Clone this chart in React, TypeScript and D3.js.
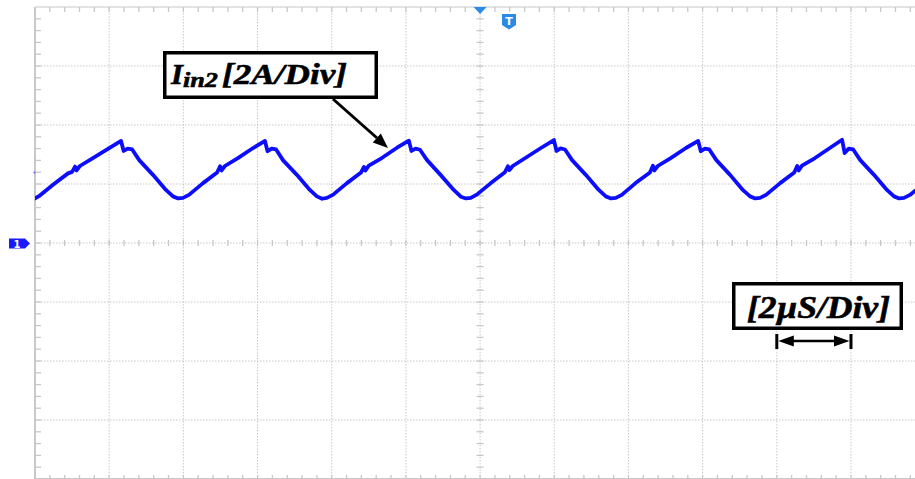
import React from 'react';
import * as d3 from 'd3';

// scope screen: 2 us/div horizontally, 2 A/div vertically, ch1 ground at centre line
const timeSpanUs = [0, 24];
const currentSpanA = [-8, 8];
const timePerDivUs = 2;
const ampsPerDiv = 2;
const subDivs = 5;
const scaleBarUs = [20, 22];

// Iin2 trace (us, A)
const traceTimeUs = [
  0.0, 0.13, 0.51, 0.89, 1.0, 1.08, 1.12, 1.21, 1.56, 2.0,
  2.32, 2.39, 2.5, 2.62, 2.81, 3.18, 3.53, 3.72, 3.86, 3.99, 4.15, 4.53, 4.91, 4.99, 5.03, 5.12, 5.47, 5.88,
  6.2, 6.27, 6.38, 6.5, 6.69, 7.06, 7.41, 7.6, 7.74, 7.87, 8.03, 8.41, 8.79, 8.87, 8.91, 9.0, 9.35, 9.76,
  10.08, 10.15, 10.26, 10.38, 10.57, 10.94, 11.29, 11.48, 11.62, 11.75, 11.91, 12.29, 12.67, 12.75, 12.79, 12.88, 13.23, 13.64,
  13.99, 14.06, 14.17, 14.29, 14.48, 14.85, 15.2, 15.39, 15.53, 15.66, 15.82, 16.2, 16.58, 16.66, 16.7, 16.79, 17.14, 17.55,
  17.88, 17.95, 18.06, 18.18, 18.37, 18.74, 19.09, 19.28, 19.42, 19.55, 19.71, 20.09, 20.47, 20.55, 20.59, 20.68, 21.03, 21.44,
  21.76, 21.83, 21.94, 22.06, 22.25, 22.62, 22.97, 23.16, 23.3, 23.43, 23.59, 23.73,
];

const traceCurrentA = [
  1.51, 1.61, 2.0, 2.36, 2.41, 2.59, 2.46, 2.61, 2.88, 3.22,
  3.46, 3.12, 3.2, 3.17, 2.81, 2.31, 1.8, 1.58, 1.51, 1.53, 1.63, 2.03, 2.39, 2.6, 2.46, 2.61, 2.88, 3.22,
  3.46, 3.11, 3.2, 3.17, 2.8, 2.31, 1.8, 1.58, 1.5, 1.53, 1.63, 2.03, 2.39, 2.58, 2.46, 2.62, 2.88, 3.23,
  3.47, 3.12, 3.2, 3.16, 2.81, 2.3, 1.8, 1.57, 1.51, 1.53, 1.64, 2.03, 2.4, 2.6, 2.47, 2.61, 2.89, 3.22,
  3.49, 3.12, 3.21, 3.17, 2.81, 2.31, 1.8, 1.58, 1.51, 1.53, 1.63, 2.04, 2.39, 2.62, 2.46, 2.61, 2.88, 3.22,
  3.46, 3.11, 3.2, 3.17, 2.81, 2.31, 1.79, 1.58, 1.51, 1.53, 1.63, 2.03, 2.39, 2.61, 2.46, 2.62, 2.88, 3.23,
  3.5, 3.05, 3.2, 3.17, 2.81, 2.31, 1.8, 1.58, 1.51, 1.53, 1.63, 1.77,
];

const W = 915;
const H = 479;
const gridCol = '#c8c8c8';
const traceCol = '#0c0cff';
const markCol = '#2a8be6';
const serifFamily = 'Liberation Serif';

const App = () => {
  const x = d3.scaleLinear().domain(timeSpanUs).range([35, 35 + 12 * 74.18]);
  const y = d3.scaleLinear().domain(currentSpanA).range([479, 7]);

  const majorT = d3.range(timeSpanUs[0] + timePerDivUs, timeSpanUs[1], timePerDivUs);
  const majorA = d3.range(currentSpanA[0] + ampsPerDiv, currentSpanA[1], ampsPerDiv);
  const minorT = d3.range(timeSpanUs[0], timeSpanUs[1], timePerDivUs / subDivs);
  const minorA = d3.range(currentSpanA[0], currentSpanA[1], ampsPerDiv / subDivs);

  const left = x(0);
  const top = y(8);
  const bottom = y(-8);
  const cx = x(12);
  const cy = y(0);
  const b0 = x(scaleBarUs[0]);
  const b1 = x(scaleBarUs[1]);

  const line = d3.line<number>()
    .x((_, i) => x(traceTimeUs[i]))
    .y(d => y(d));

  return (
    <div style={{ position: 'absolute', left: 0, top: 0 }}>
      <svg width={W} height={H} style={{ display: 'block', background: '#fff' }}>
        <defs>
          <clipPath id="screen">
            <rect x={left} y={0} width={W - left} height={H} />
          </clipPath>
        </defs>

        {/* dotted graticule */}
        <g stroke={gridCol} strokeWidth={1} strokeDasharray="1.5 1.5">
          {majorT.map(t => (
            <line key={'v' + t} x1={x(t)} x2={x(t)} y1={top} y2={bottom} />
          ))}
          {majorA.map(a => (
            <line key={'h' + a} x1={left} x2={W} y1={y(a)} y2={y(a)} />
          ))}
        </g>

        {/* minor ticks on frame and centre cross */}
        <g stroke={gridCol} strokeWidth={1.3}>
          {minorT.map(t => (
            <g key={'mt' + t}>
              <line x1={x(t)} x2={x(t)} y1={top} y2={top + 5} />
              <line x1={x(t)} x2={x(t)} y1={bottom - 4} y2={bottom} />
              <line x1={x(t)} x2={x(t)} y1={cy - 3} y2={cy + 3} />
            </g>
          ))}
          {minorA.map(a => (
            <g key={'ma' + a}>
              <line x1={left} x2={left + 6} y1={y(a)} y2={y(a)} />
              <line x1={cx - 3.5} x2={cx + 3.5} y1={y(a)} y2={y(a)} />
            </g>
          ))}
        </g>

        {/* frame */}
        <line x1={left} x2={left} y1={top} y2={bottom} stroke={gridCol} strokeWidth={2} />
        <line x1={left} x2={W} y1={top} y2={top} stroke={gridCol} strokeWidth={1.2} />
        <line x1={left} x2={W} y1={bottom - 0.5} y2={bottom - 0.5} stroke={gridCol} strokeWidth={1.2} />

        {/* trace */}
        <path
          d={line(traceCurrentA) || ''}
          fill="none"
          stroke={traceCol}
          strokeWidth={3.8}
          strokeLinejoin="round"
          strokeLinecap="round"
          clipPath="url(#screen)"
        />

        {/* channel 1 ground marker */}
        <path d={`M9,${cy - 4.5}H25L30,${cy + 0.5}L25,${cy + 5.5}H9Z`} fill="#1a1aff" />
        <text x={17} y={cy + 4.5} fill="#fff" fontSize={10} fontWeight="bold"
          fontFamily="DejaVu Sans" textAnchor="middle">1</text>
        <rect x={33.5} y={171.5} width={2} height={2} fill="#7070ff" />

        {/* trigger markers */}
        <path d={`M${cx - 6.5},${top}H${cx + 6.5}L${cx},${top + 7}Z`} fill={markCol} />
        <path d="M502,14H516V25L509,29.5L502,25Z" fill={markCol} />
        <text x={509} y={25} fill="#fff" fontSize={11} fontWeight="bold"
          fontFamily="DejaVu Sans" textAnchor="middle">T</text>

        {/* Iin2 label */}
        <rect x={164.75} y={52.75} width={211.5} height={44.5} fill="#fff" stroke="#000" strokeWidth={3.5} />
        <g fontFamily={serifFamily} fontWeight="bold" fontStyle="italic" fill="#000"
          stroke="#000" strokeWidth={0.6}>
          <text x={171} y={83.5} fontSize={30} textLength={12} lengthAdjust="spacingAndGlyphs">I</text>
          <text x={183} y={86.5} fontSize={22} textLength={35} lengthAdjust="spacingAndGlyphs">in2</text>
          <text x={222} y={83.5} fontSize={30} textLength={125} lengthAdjust="spacingAndGlyphs">[2A/Div]</text>
        </g>
        <line x1={333} y1={99} x2={377} y2={138} stroke="#000" strokeWidth={3} />
        <path d="M388,148L372.8,142.5L380.8,133.5Z" fill="#000" />

        {/* time base label */}
        <rect x={733.75} y={283.75} width={167.5} height={44.5} fill="#fff" stroke="#000" strokeWidth={3.5} />
        <text x={747} y={317.5} fontSize={31} fontFamily={serifFamily} fontWeight="bold" fontStyle="italic"
          stroke="#000" strokeWidth={0.6}
          textLength={143} lengthAdjust="spacingAndGlyphs">[2µS/Div]</text>
        <g stroke="#000" strokeWidth={3}>
          <line x1={b0} x2={b0} y1={334} y2={349} />
          <line x1={b1} x2={b1} y1={334} y2={349} />
        </g>
        <line x1={b0 + 8} x2={b1 - 8} y1={341} y2={341} stroke="#000" strokeWidth={2.5} />
        <path d={`M${b0 + 1.5},341L${b0 + 17},335.5L${b0 + 17},346.5Z`} fill="#000" />
        <path d={`M${b1 - 1.5},341L${b1 - 17},335.5L${b1 - 17},346.5Z`} fill="#000" />
      </svg>
    </div>
  );
};

export default App;
